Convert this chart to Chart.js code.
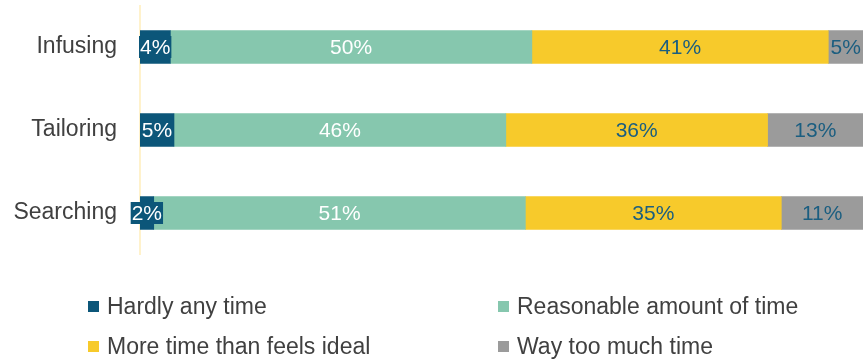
<!DOCTYPE html>
<html>
<head>
<meta charset="utf-8">
<script src="https://cdn.jsdelivr.net/npm/chart.js@4/dist/chart.umd.min.js"></script>
<style>
  html, body { margin: 0; padding: 0; background: #fff; }
  #wrap { position: relative; width: 863px; height: 359px; overflow: hidden; }
  #legend { position: absolute; left: 0; top: 0; width: 863px; height: 359px; pointer-events: none;
            font-family: "Liberation Sans", Arial, sans-serif; font-size: 23px; color: #404040; }
  .item { position: absolute; display: flex; align-items: center; white-space: nowrap; height: 30px; }
  .box { width: 11px; height: 11px; margin-right: 8px; }
</style>
</head>
<body>
<div id="wrap">
  <canvas id="timeChart" width="863" height="359"></canvas>
  <div id="legend"></div>
</div>
<script>
var categorias = ["Infusing", "Tailoring", "Searching"];
var hardly = [4.2, 4.7, 1.9];          // Hardly any time
var reasonable = [50.0, 45.9, 51.4];   // Reasonable amount of time
var moreTime = [41.0, 36.2, 35.4];     // More time than feels ideal
var wayTooMuch = [4.8, 13.2, 11.3];    // Way too much time
var series = ["Hardly any time", "Reasonable amount of time", "More time than feels ideal", "Way too much time"];
var colores = ["#0C5679", "#86C7AE", "#F7CA2B", "#9B9B9B"];
var colorTexto = ["#ffffff", "#ffffff", "#1B5E80", "#1B5E80"];

var fuente = '"Liberation Sans", Arial, sans-serif';

// etiquetas de porcentaje dentro de cada barra
var etiquetasPlugin = {
    id: "etiquetas",
    afterDatasetsDraw: function (chart) {
        var ctx = chart.ctx;
        ctx.save();
        ctx.font = "21px " + fuente;
        ctx.textAlign = "center";
        ctx.textBaseline = "middle";
        chart.data.datasets.forEach(function (ds, i) {
            var meta = chart.getDatasetMeta(i);
            meta.data.forEach(function (bar, j) {
                var txt = Math.round(ds.data[j]) + "%";
                var cx = (bar.x + bar.base) / 2;
                var w = ctx.measureText(txt).width;
                if (i === 0) {
                    ctx.fillStyle = colores[0];
                    ctx.fillRect(cx - w / 2 - 1, bar.y - 11, w + 2, 22);
                }
                ctx.fillStyle = colorTexto[i];
                ctx.fillText(txt, cx, bar.y + 1);
            });
        });
        ctx.restore();
    }
};

var datasets = [hardly, reasonable, moreTime, wayTooMuch].map(function (d, i) {
    return {
        label: series[i],
        data: d,
        backgroundColor: colores[i],
        borderWidth: 0,
        barThickness: 33
    };
});

var config = {
    type: "bar",
    data: { labels: categorias, datasets: datasets },
    options: {
        indexAxis: "y",
        responsive: false,
        animation: false,
        layout: { padding: { top: 5.5, bottom: 104.5, left: 0, right: 0 } },
        plugins: { legend: { display: false }, tooltip: { enabled: false } },
        scales: {
            x: { stacked: true, min: 0, max: 100, display: false },
            y: {
                stacked: true,
                grid: { display: false, drawTicks: false },
                border: { display: true, color: "#FFF2CC", width: 2 },
                ticks: { padding: 23, color: "#404040", font: { family: fuente, size: 23 } },
                afterFit: function (scale) {
                    scale.width = 140;
                    scale.paddingTop = 0;
                    scale.paddingBottom = 0;
                }
            }
        }
    },
    plugins: [etiquetasPlugin]
};

var grafica = new Chart(document.getElementById("timeChart"), config);

// leyenda en dos columnas
var leyenda = document.getElementById("legend");
var colX = [88, 498];
var filaY = [291, 331];
series.forEach(function (nombre, i) {
    var item = document.createElement("div");
    item.className = "item";
    item.style.left = colX[i % 2] + "px";
    item.style.top = filaY[Math.floor(i / 2)] + "px";
    item.innerHTML = '<span class="box" style="background:' + colores[i] + '"></span><span>' + nombre + '</span>';
    leyenda.appendChild(item);
});
</script>
</body>
</html>
